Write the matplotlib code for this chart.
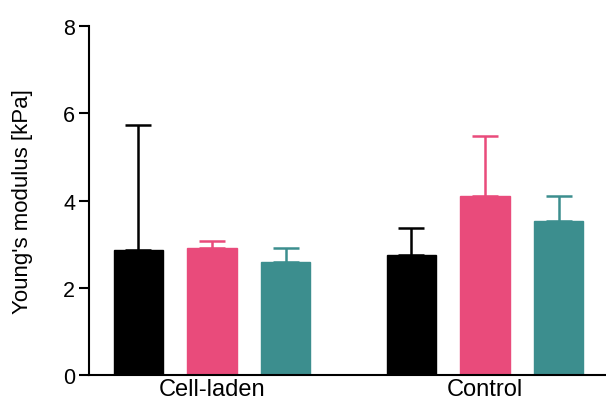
import numpy as np
import matplotlib.pyplot as plt

plt.rcParams['font.family'] = ['Liberation Sans', 'DejaVu Sans']

# data
groups = ['Cell-laden', 'Control']
black_mean = [2.87, 2.75]
black_err = [2.87, 0.61]
pink_mean = [2.90, 4.10]
pink_err = [0.17, 1.39]
teal_mean = [2.58, 3.54]
teal_err = [0.33, 0.57]

colors = ['#000000', '#E94B7B', '#3C8E8E']

fig = plt.figure(figsize=(6.06, 4.10), dpi=100)
ax = fig.add_axes([0.147, 0.083, 0.853, 0.851])

x = np.arange(len(groups))
offset = 0.27
width = 0.18
series = [(black_mean, black_err), (pink_mean, pink_err), (teal_mean, teal_err)]
for i, (m, e) in enumerate(series):
    pos = x + (i - 1) * offset
    ax.bar(pos, m, width, color=colors[i], edgecolor=colors[i], zorder=2)
    ax.errorbar(pos, m, yerr=[np.zeros(len(m)), e], fmt='none', ecolor=colors[i],
                elinewidth=1.8, capsize=9.5, capthick=1.8, zorder=1)

ax.set_xlim(-0.45, 1.443)
ax.set_ylim(0, 8)
ax.set_yticks([0, 2, 4, 6, 8])
ax.set_xticks(x)
ax.set_xticklabels(groups, fontsize=17)
ax.tick_params(axis='x', length=0, pad=2)
ax.tick_params(axis='y', labelsize=15.5, width=1.5, length=7, pad=3)
ax.set_ylabel("Young's modulus [kPa]", fontsize=16)
ax.yaxis.set_label_coords(-0.108, 0.5)

for s in ['top', 'right']:
    ax.spines[s].set_visible(False)
for s in ['left', 'bottom']:
    ax.spines[s].set_linewidth(1.5)

fig.savefig('out.png', dpi=100)
